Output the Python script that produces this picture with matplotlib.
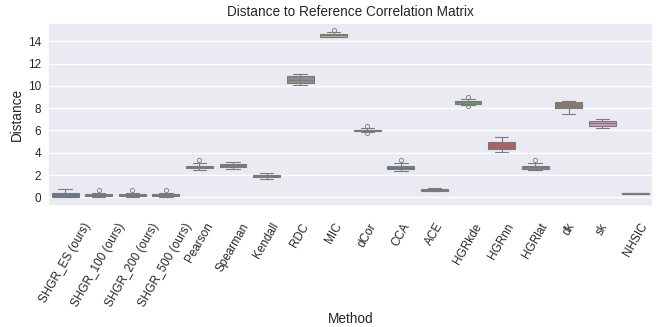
import matplotlib
matplotlib.use("Agg")
import matplotlib.pyplot as plt
import seaborn as sns

methods = ["SHGR_ES (ours)", "SHGR_100 (ours)", "SHGR_200 (ours)", "SHGR_500 (ours)",
           "Pearson", "Spearman", "Kendall", "RDC", "MIC", "dCor", "CCA", "ACE",
           "HGRkde", "HGRnn", "HGRlat", "dk", "sk", "NHSIC"]

# box statistics
q1 =      [0.05, 0.09, 0.09, 0.09, 2.60, 2.72, 1.80, 10.23, 14.42, 5.96, 2.57, 0.60, 8.42, 4.36, 2.57, 7.99, 6.43, 0.34]
median =  [0.25, 0.18, 0.18, 0.18, 2.72, 2.88, 1.90, 10.50, 14.58, 6.01, 2.70, 0.68, 8.52, 4.65, 2.70, 8.30, 6.65, 0.36]
q3 =      [0.41, 0.32, 0.32, 0.32, 2.81, 3.02, 2.00, 10.89, 14.70, 6.06, 2.81, 0.76, 8.60, 4.99, 2.81, 8.53, 6.82, 0.38]
whislo =  [0.00, 0.00, 0.00, 0.00, 2.45, 2.51, 1.62, 10.05, 14.35, 5.87, 2.39, 0.56, 8.30, 4.04, 2.45, 7.45, 6.19, 0.33]
whishi =  [0.72, 0.41, 0.41, 0.41, 3.05, 3.20, 2.15, 11.07, 14.84, 6.20, 3.08, 0.80, 8.80, 5.44, 3.05, 8.64, 7.00, 0.39]
fliers =  [[], [0.63], [0.63], [0.63], [3.38], [], [], [], [15.00], [6.43, 5.75], [3.35], [],
           [8.98, 8.20], [], [3.35], [], [], []]

sns.set_theme(style="darkgrid")
plt.rcParams["font.family"] = ["Liberation Sans", "DejaVu Sans"]

colors = sns.color_palette("deep", len(methods), desat=0.75)

stats = []
for i, m in enumerate(methods):
    stats.append({"label": m, "q1": q1[i], "med": median[i], "q3": q3[i],
                  "whislo": whislo[i], "whishi": whishi[i], "fliers": fliers[i]})

fig = plt.figure(figsize=(6.63, 3.27), dpi=100)
ax = fig.add_axes([48.3 / 663, 1 - 205.7 / 327, (652.7 - 48.3) / 663, (205.7 - 22.7) / 327])

line_col = "#7a7a7a"
bp = ax.bxp(stats, positions=range(len(methods)), widths=0.8, patch_artist=True,
            boxprops=dict(edgecolor=line_col, linewidth=0.8),
            whiskerprops=dict(color=line_col, linewidth=0.8),
            capprops=dict(color=line_col, linewidth=0.8),
            medianprops=dict(color=line_col, linewidth=0.8),
            flierprops=dict(marker="o", markersize=3, markerfacecolor="none",
                            markeredgecolor=line_col, markeredgewidth=0.6))
for patch, c in zip(bp["boxes"], colors):
    patch.set_facecolor(c)

ax.set_xlim(-0.5, len(methods) - 0.5)
ax.set_ylim(-0.75, 15.67)
ax.set_yticks(range(0, 15, 2))
ax.set_xticks(range(len(methods)))
ax.set_xticklabels(methods, rotation=60)
ax.grid(axis="x", visible=False)
ax.grid(axis="y", visible=True, color="white", linewidth=1)
ax.tick_params(axis="both", labelsize=8.5, colors="#262626")
ax.tick_params(axis="y", length=0, pad=5)
ax.tick_params(axis="x", pad=5)

ax.set_title("Distance to Reference Correlation Matrix", fontsize=9.8, pad=5)
ax.set_xlabel("Method", fontsize=9.8, labelpad=2)
ax.set_ylabel("Distance", fontsize=9.8, labelpad=3)

fig.savefig("out.png", dpi=100)
